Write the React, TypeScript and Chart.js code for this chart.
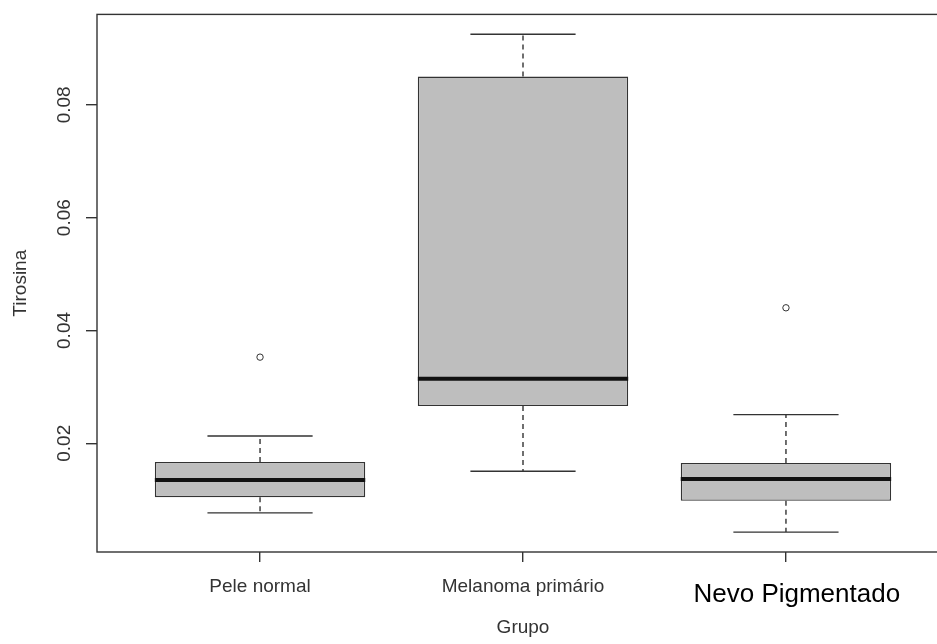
import { useEffect, useRef } from "react";
import { Chart, registerables } from "chart.js";

Chart.register(...registerables);

// Groups and their positions on the x axis
const groups = ["Pele normal", "Melanoma primário", "   Nevo Pigmentado"];
const groupPositions = [1, 2, 3];

// Five-number summaries per group (Tirosina)
const lowerWhisker = [0.00766, 0.01504, 0.00425];
const lowerQuartile = [0.01044, 0.0266, 0.00979];
const medians = [0.0135, 0.03145, 0.01368];
const upperQuartile = [0.01669, 0.08501, 0.01651];
const upperWhisker = [0.02129, 0.09251, 0.02508];

// Outlying observations
const outlierGroup = [1, 3];
const outlierValue = [0.03527, 0.04402];

// Axis ranges and ticks
const yTickValues = [0.02, 0.04, 0.06, 0.08];
const xRange = [0.38, 3.62];
const yRange = [0.00072, 0.09604];

const FONT = "'Liberation Sans', Arial, Helvetica, sans-serif";
const INK = "#333333";

const boxplotParts = {
  id: "boxplotParts",
  afterDatasetsDraw(chart: any) {
    const { ctx, chartArea, scales } = chart;
    const xs = scales.x;
    const ys = scales.y;
    const boxes = chart.getDatasetMeta(0).data;
    ctx.save();
    groupPositions.forEach((pos, i) => {
      const cx = xs.getPixelForValue(pos);
      const half = (boxes[i]?.width ?? 0) / 2;
      const capHalf = half / 2;
      const yLoW = ys.getPixelForValue(lowerWhisker[i]);
      const yQ1 = ys.getPixelForValue(lowerQuartile[i]);
      const yMed = ys.getPixelForValue(medians[i]);
      const yQ3 = ys.getPixelForValue(upperQuartile[i]);
      const yHiW = ys.getPixelForValue(upperWhisker[i]);

      // dashed whiskers
      ctx.strokeStyle = INK;
      ctx.lineWidth = 1.4;
      ctx.setLineDash([5, 4]);
      ctx.beginPath();
      ctx.moveTo(cx, yQ3);
      ctx.lineTo(cx, yHiW);
      ctx.moveTo(cx, yQ1);
      ctx.lineTo(cx, yLoW);
      ctx.stroke();

      // whisker caps
      ctx.setLineDash([]);
      ctx.beginPath();
      ctx.moveTo(cx - capHalf, yHiW);
      ctx.lineTo(cx + capHalf, yHiW);
      ctx.moveTo(cx - capHalf, yLoW);
      ctx.lineTo(cx + capHalf, yLoW);
      ctx.stroke();

      // median
      ctx.strokeStyle = "#111111";
      ctx.lineWidth = 4;
      ctx.beginPath();
      ctx.moveTo(cx - half, yMed);
      ctx.lineTo(cx + half, yMed);
      ctx.stroke();
    });

    // plot frame
    ctx.strokeStyle = INK;
    ctx.lineWidth = 1.4;
    ctx.strokeRect(
      chartArea.left,
      chartArea.top,
      chartArea.right - chartArea.left,
      chartArea.bottom - chartArea.top
    );
    ctx.restore();
  },
};

export default function App() {
  const canvasRef = useRef<HTMLCanvasElement | null>(null);

  useEffect(() => {
    document.body.style.margin = "0";
    Chart.defaults.font.family = FONT;
    const canvas = canvasRef.current;
    if (!canvas) return;

    const chart = new Chart(canvas, {
      type: "bar",
      data: {
        datasets: [
          {
            type: "bar",
            data: groupPositions.map((p, i) => ({
              x: p,
              y: [lowerQuartile[i], upperQuartile[i]],
            })) as any,
            backgroundColor: "#bebebe",
            borderColor: INK,
            borderWidth: 1.4,
            borderSkipped: false,
            barPercentage: 0.8,
            categoryPercentage: 1,
          },
          {
            type: "scatter",
            data: outlierGroup.map((g, i) => ({ x: g, y: outlierValue[i] })),
            pointRadius: 3.2,
            pointBackgroundColor: "#ffffff",
            pointBorderColor: INK,
            pointBorderWidth: 1,
            showLine: false,
          } as any,
        ],
      },
      options: {
        responsive: false,
        animation: false,
        devicePixelRatio: 1,
        layout: { padding: { top: 14, right: 11, bottom: 0, left: 0 } },
        plugins: {
          legend: { display: false },
          tooltip: { enabled: false },
        },
        scales: {
          x: {
            type: "linear",
            offset: false,
            min: xRange[0],
            max: xRange[1],
            afterBuildTicks: (s: any) => {
              s.ticks = groupPositions.map((v) => ({ value: v }));
            },
            afterFit: (s: any) => {
              s.height = 92;
            },
            ticks: {
              autoSkip: false,
              minRotation: 0,
              maxRotation: 0,
              padding: 13,
              callback: (v: any) => groups[groupPositions.indexOf(Number(v))] ?? "",
              font: (c: any) =>
                c.index === 2
                  ? { size: 26, lineHeight: 1.5, family: FONT }
                  : { size: 19, family: FONT },
              color: (c: any) => (c.index === 2 ? "#000000" : INK),
            },
            grid: {
              offset: false,
              drawOnChartArea: false,
              drawTicks: true,
              tickLength: 10,
              color: INK,
              lineWidth: 1.4,
            },
            border: { display: false },
            title: {
              display: true,
              text: "Grupo",
              color: INK,
              font: { size: 19, family: FONT },
              padding: 5,
            },
          },
          y: {
            type: "linear",
            min: yRange[0],
            max: yRange[1],
            afterBuildTicks: (s: any) => {
              s.ticks = yTickValues.map((v) => ({ value: v }));
            },
            afterFit: (s: any) => {
              s.width = 97;
            },
            ticks: {
              minRotation: 90,
              maxRotation: 90,
              crossAlign: "center",
              padding: 3,
              callback: (v: any) => Number(v).toFixed(2),
              font: { size: 19, family: FONT },
              color: INK,
            },
            grid: {
              drawOnChartArea: false,
              drawTicks: true,
              tickLength: 11,
              color: INK,
              lineWidth: 1.4,
            },
            border: { display: false },
            title: {
              display: true,
              text: "Tirosina",
              color: INK,
              font: { size: 19, family: FONT },
              padding: 9,
            },
          },
        },
      } as any,
      plugins: [boxplotParts],
    });

    return () => chart.destroy();
  }, []);

  return (
    <div style={{ width: 937, height: 644, overflow: "hidden", position: "relative", background: "#ffffff" }}>
      <canvas ref={canvasRef} width={960} height={644} style={{ width: 960, height: 644, display: "block" }} />
    </div>
  );
}
